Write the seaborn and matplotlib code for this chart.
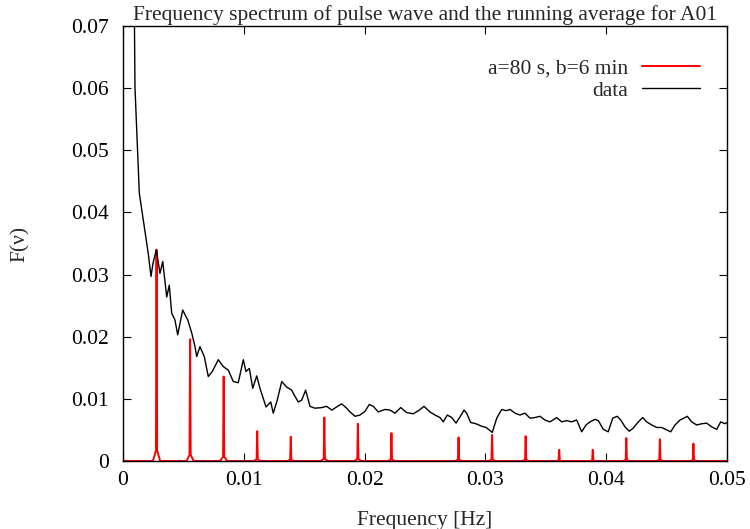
import numpy as np
import pandas as pd
import matplotlib
import matplotlib.pyplot as plt
import seaborn as sns

matplotlib.use('Agg')

freq = [0.00085, 0.00095, 0.00099, 0.00127, 0.00135, 0.00168, 0.00196, 0.00209, 0.00232, 0.00248,
        0.00276, 0.00306, 0.00329, 0.00362, 0.00383, 0.00403, 0.00430, 0.00453, 0.00494, 0.00536,
        0.00569, 0.00596, 0.00610, 0.00637, 0.00673, 0.00706, 0.00739, 0.00789, 0.00830, 0.00872,
        0.00913, 0.00954, 0.00996, 0.01018, 0.01046, 0.01074, 0.01107, 0.01134, 0.01184, 0.01223,
        0.01244, 0.01277, 0.01314, 0.01355, 0.01397, 0.01418, 0.01451, 0.01479, 0.01512, 0.01548,
        0.01589, 0.01645, 0.01686, 0.01728, 0.01769, 0.01810, 0.01852, 0.01879, 0.01921, 0.01962,
        0.02003, 0.02039, 0.02072, 0.02113, 0.02169, 0.02210, 0.02252, 0.02299, 0.02348, 0.02403,
        0.02453, 0.02492, 0.02541, 0.02583, 0.02624, 0.02651, 0.02685, 0.02721, 0.02757, 0.02790,
        0.02823, 0.02845, 0.02878, 0.02922, 0.02969, 0.03005, 0.03032, 0.03057, 0.03094, 0.03135,
        0.03171, 0.03204, 0.03245, 0.03286, 0.03328, 0.03369, 0.03411, 0.03452, 0.03493, 0.03535,
        0.03590, 0.03632, 0.03673, 0.03714, 0.03756, 0.03797, 0.03833, 0.03866, 0.03907, 0.03935,
        0.03976, 0.04017, 0.04054, 0.04092, 0.04120, 0.04156, 0.04191, 0.04224, 0.04257, 0.04302,
        0.04335, 0.04377, 0.04418, 0.04459, 0.04501, 0.04534, 0.04570, 0.04611, 0.04644, 0.04671,
        0.04708, 0.04749, 0.04791, 0.04832, 0.04873, 0.04915, 0.04948, 0.04983, 0.05000]
amp = [0.0780, 0.0700, 0.0602, 0.0468, 0.0431, 0.0388, 0.0351, 0.0334, 0.0297, 0.0318,
       0.0340, 0.0302, 0.0321, 0.0264, 0.0283, 0.0238, 0.0227, 0.0203, 0.0243, 0.0227,
       0.0206, 0.0184, 0.0168, 0.0184, 0.0168, 0.0136, 0.0144, 0.0163, 0.0152, 0.0146,
       0.0128, 0.0126, 0.0163, 0.0144, 0.0149, 0.0117, 0.0137, 0.0117, 0.0087, 0.0095,
       0.0077, 0.0098, 0.0128, 0.0119, 0.0114, 0.0106, 0.0095, 0.0098, 0.0114, 0.0088,
       0.0085, 0.0086, 0.0088, 0.0082, 0.0087, 0.0092, 0.0085, 0.0079, 0.0072, 0.0074,
       0.0080, 0.0091, 0.0088, 0.0079, 0.0083, 0.0082, 0.0077, 0.0086, 0.0078, 0.0076,
       0.0082, 0.0088, 0.0079, 0.0074, 0.0070, 0.0063, 0.0074, 0.0070, 0.0061, 0.0071,
       0.0082, 0.0077, 0.0062, 0.0060, 0.0056, 0.0054, 0.0050, 0.0046, 0.0069, 0.0083,
       0.0081, 0.0083, 0.0077, 0.0074, 0.0077, 0.0069, 0.0070, 0.0072, 0.0066, 0.0063,
       0.0070, 0.0063, 0.0065, 0.0063, 0.0066, 0.0047, 0.0058, 0.0063, 0.0067, 0.0065,
       0.0051, 0.0047, 0.0069, 0.0072, 0.0066, 0.0055, 0.0048, 0.0053, 0.0061, 0.0070,
       0.0063, 0.0058, 0.0054, 0.0054, 0.0050, 0.0047, 0.0058, 0.0066, 0.0069, 0.0072,
       0.0063, 0.0058, 0.0060, 0.0061, 0.0055, 0.0051, 0.0063, 0.0060, 0.0062]

# running-average model: peaks at harmonics of 1/(6 min)
peak_harmonic = [1, 2, 3, 4, 5, 6, 7, 8, 10, 11, 12, 13, 14, 15, 16, 17]
peak_height = [0.0340, 0.0196, 0.0136, 0.0048, 0.0039, 0.0070, 0.0060, 0.0045,
               0.0038, 0.0042, 0.0040, 0.0018, 0.0018, 0.0037, 0.0035, 0.0028]
b_seconds = 360.0

# red curve: zero baseline with narrow spikes
base_w, tip_w, skirt = 0.00030, 0.00005, 0.05
rx, ry = [0.0], [0.0]
for k, h in zip(peak_harmonic, peak_height):
    c = k / b_seconds
    rx += [c - base_w, c - tip_w, c, c + tip_w, c + base_w]
    ry += [0.0, h * skirt, h, h * skirt, 0.0]
rx.append(0.05)
ry.append(0.0)
model = pd.DataFrame({'Frequency': rx, 'F': ry})
data = pd.DataFrame({'Frequency': freq, 'F': amp})

sns.set_theme(style='ticks')
plt.rcParams['font.family'] = ['Liberation Serif', 'DejaVu Serif']
fs = 15.5

fig = plt.figure(figsize=(7.5, 5.29), dpi=100)
ax = fig.add_axes([0.164, 0.1285, 0.8053, 0.8223])

sns.lineplot(data=model, x='Frequency', y='F', ax=ax, color='#ff0000', lw=1.4,
             sort=False, label='a=80 s, b=6 min')
sns.lineplot(data=data, x='Frequency', y='F', ax=ax, color='black', lw=1.0,
             sort=False, label='data')

ax.set_xlim(0, 0.05)
ax.set_ylim(0, 0.07)
ax.set_xticks(np.arange(0, 0.0501, 0.01))
ax.set_yticks(np.arange(0, 0.0701, 0.01))
ax.set_xticklabels(['0', '0.01', '0.02', '0.03', '0.04', '0.05'])
ax.set_yticklabels(['0', '0.01', '0.02', '0.03', '0.04', '0.05', '0.06', '0.07'])
ax.tick_params(direction='in', length=6, width=0.8, top=True, right=True,
               labelsize=fs, colors='black')
ax.tick_params(axis='y', pad=10)
ax.tick_params(axis='x', pad=7)
for s in ax.spines.values():
    s.set_visible(True)
    s.set_color('black')
    s.set_linewidth(1.0)

ax.set_xlabel('Frequency [Hz]', fontsize=fs, labelpad=15)
ax.set_ylabel('F(ν)', fontsize=fs, labelpad=30)
ax.set_title('Frequency spectrum of pulse wave and the running average for A01',
             fontsize=fs, pad=4)

leg = ax.legend(loc='upper right', bbox_to_anchor=(0.9553, 0.926), frameon=False,
                markerfirst=False, fontsize=fs, handlelength=2.7, handletextpad=0.65,
                borderpad=0, borderaxespad=0, labelspacing=0.1)
for t in leg.get_texts():
    t.set_ha('right')

fig.savefig('out.png', dpi=100)
